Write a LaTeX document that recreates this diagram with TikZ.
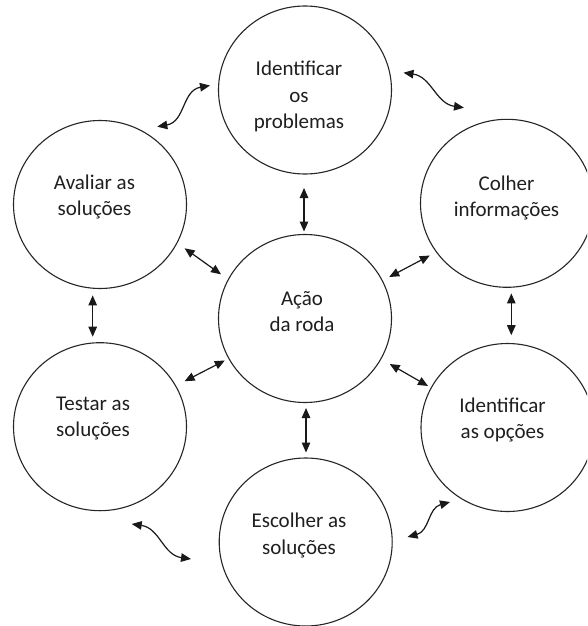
\documentclass[tikz,border=0pt]{standalone}
\usepackage{fontspec}
\setmainfont{Carlito}
\usetikzlibrary{arrows.meta,shapes.geometric,calc}
\begin{document}
\begin{tikzpicture}[x=1pt,y=-1pt,
  ring/.style={draw=black!85, line width=1.1pt, ellipse, minimum width=173pt, minimum height=168pt, inner sep=0pt, outer sep=0pt},
  lbl/.style={align=center, font=\fontsize{21}{26.5}\selectfont, text=black!88, inner sep=0pt},
  dbl/.style={{Triangle[length=10pt,width=8.5pt]}-{Triangle[length=10pt,width=8.5pt]}, line width=1.2pt, draw=black!90},
]
\clip (0,0) rectangle (587,626);
\fill[white] (0,0) rectangle (587,626);

% circles
\node[ring] (t)  at (305,90)      {};
\node[ring] (c)  at (305,318.5)   {};
\node[ring] (b)  at (305.7,542)   {};
\node[ring] (ul) at (100,204.5)   {};
\node[ring] (ll) at (100,426.7)   {};
\node[ring] (ur) at (507,203.3)   {};
\node[ring] (lr) at (507.5,427.5) {};

% labels
\node[lbl] (t-txt)  at (299,96.7)   {Identificar\\os\\problemas};
\node[lbl] (c-txt)  at (302,311.5)  {Ação\\da roda};
\node[lbl] (ul-txt) at (94.5,197)   {Avaliar as\\soluções};
\node[lbl] (ur-txt) at (506.5,198)  {Colher\\informações};
\node[lbl] (ll-txt) at (93,418.5)   {Testar as\\soluções};
\node[lbl] (lr-txt) at (502.5,420)  {Identificar\\as opções};
\node[lbl] (b-txt)  at (299,535.7)  {Escolher as\\soluções};

% arrow end points
\coordinate (tc1) at (304,188);     \coordinate (tc2) at (304,231.5);
\coordinate (cb1) at (306,408);     \coordinate (cb2) at (306,452.5);
\coordinate (lv1) at (92.7,295.4);  \coordinate (lv2) at (92.7,336.7);
\coordinate (rv1) at (511.3,293.4); \coordinate (rv2) at (511.3,335.2);
\coordinate (d1a) at (184.6,248.3); \coordinate (d1b) at (221,274.3);
\coordinate (d2a) at (389.2,277);   \coordinate (d2b) at (429.8,255.5);
\coordinate (d3a) at (184.6,381.2); \coordinate (d3b) at (224.8,360.5);
\coordinate (d4a) at (389.7,364);   \coordinate (d4b) at (428,386);
\coordinate (w1a) at (157.3,126.7); \coordinate (w1b) at (210,85.5);
\coordinate (w2a) at (403.5,72.7);  \coordinate (w2b) at (464,107.7);
\coordinate (w3a) at (407.5,537);   \coordinate (w3b) at (450,502);
\coordinate (w4a) at (131.7,524);   \coordinate (w4b) at (191,559);

% straight double arrows
\draw[dbl] (tc1) -- (tc2);
\draw[dbl] (cb1) -- (cb2);
\draw[dbl] (lv1) -- (lv2);
\draw[dbl] (rv1) -- (rv2);
\draw[dbl] (d1a) -- (d1b);
\draw[dbl] (d2a) -- (d2b);
\draw[dbl] (d3a) -- (d3b);
\draw[dbl] (d4a) -- (d4b);

% wavy double arrows
\draw[dbl] (w1a) .. controls +(28,-5) and +(-28,5) .. (w1b);
\draw[dbl] (w2a) .. controls +(28,4) and +(-28,-4) .. (w2b);
\draw[dbl] (w3a) .. controls +(22,-6) and +(-22,6) .. (w3b);
\draw[dbl] (w4a) .. controls +(28,4) and +(-28,-4) .. (w4b);
\end{tikzpicture}
\end{document}
